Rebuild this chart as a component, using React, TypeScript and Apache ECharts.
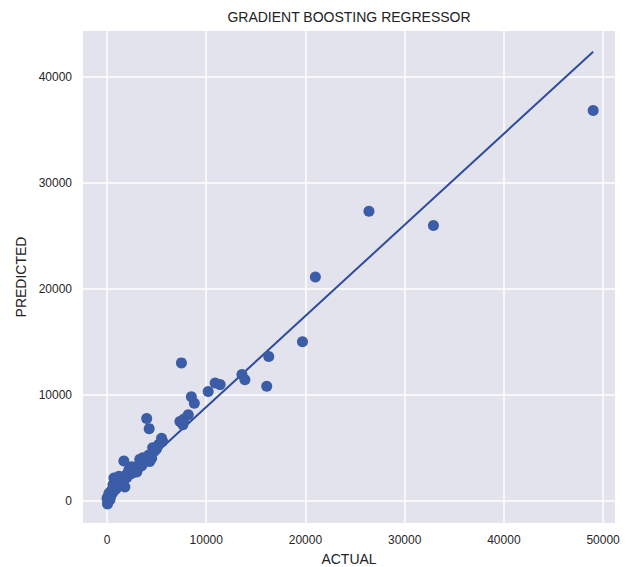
import React, { useEffect, useRef } from "react";
import * as echarts from "echarts";

const titleText = "GRADIENT BOOSTING REGRESSOR";
const xName = "ACTUAL";
const yName = "PREDICTED";

const xTicks = [0, 10000, 20000, 30000, 40000, 50000];
const yTicks = [0, 10000, 20000, 30000, 40000];

const actual = [
  49000, 32900, 26400, 21000, 19700, 16300, 16100, 13600, 13900, 10900,
  11400, 10200, 7500, 8500, 8800, 7350, 7650, 8190, 7750, 4000,
  4250, 1700, 700, 5600, 5200, 4600, 4300, 3600,
  50, 100, 150, 200, 250, 300, 350, 400, 450, 500,
  600, 650, 700, 800, 900, 950, 1000, 1100, 1200, 1300,
  1400, 1500, 1600, 1750, 1900, 2000, 2100, 2300, 2400, 2500,
  2700, 2800, 3000, 3100, 3300, 3500, 3700, 3800, 4000, 4200,
  4400, 4800, 5000, 100, 200, 0, 300, 5500,
  1200, 2500, 3000, 600, 1800, 4500, 3300, 900, 2200,
];

const predicted = [
  36800, 25950, 27300, 21100, 15000, 13600, 10800, 11900, 11400, 11100,
  10950, 10300, 13000, 9800, 9200, 7480, 7170, 8110, 7700, 7750,
  6800, 3750, 2150, 5600, 5300, 5000, 3700, 4050,
  -300, 0, 300, 150, 500, 700, 400, 900, 600, 1000,
  800, 1200, 1000, 1300, 1100, 1500, 1700, 1400, 1800, 1600,
  2000, 1800, 2200, 2000, 2400, 2200, 2600, 2500, 2800, 2600,
  3000, 2800, 3200, 3000, 3400, 3300, 3600, 4000, 3800, 4300,
  4200, 4700, 4900, 400, 700, 200, 100, 5900,
  2300, 3200, 2700, 1500, 1300, 4000, 3900, 1900, 2900,
];

const fitX = [0, 49000];
const fitY = [250, 42350];

const FONT = "'Liberation Sans', Arial, Helvetica, sans-serif";

export default function App() {
  const ref = useRef<HTMLDivElement>(null);

  useEffect(() => {
    if (!ref.current) return;
    const chart = echarts.init(ref.current, undefined, { renderer: "svg" });
    const points = actual.map((a, i) => [a, predicted[i]]);
    const fit = fitX.map((x, i) => [x, fitY[i]]);

    chart.setOption({
      animation: false,
      backgroundColor: "#ffffff",
      grid: {
        left: 83,
        right: 13,
        top: 31,
        bottom: 44,
        containLabel: false,
        outerBoundsMode: "none",
        show: true,
        backgroundColor: "#E3E3EE",
        borderWidth: 0,
      },
      graphic: [
        {
          type: "text",
          x: 349,
          y: 17,
          style: {
            text: titleText,
            fill: "#222222",
            font: `14px ${FONT}`,
            textAlign: "center",
            textVerticalAlign: "middle",
          },
        },
      ],
      xAxis: {
        type: "value",
        min: -2420,
        max: 51200,
        name: xName,
        nameLocation: "middle",
        nameGap: 29,
        nameTextStyle: { color: "#222222", fontSize: 14, fontFamily: FONT },
        axisLine: { show: false },
        axisTick: { show: false, customValues: xTicks },
        axisLabel: {
          customValues: xTicks,
          formatter: (v: number) => String(v),
          color: "#262626",
          fontSize: 12,
          fontFamily: FONT,
          margin: 11,
        },
        splitLine: { show: true, lineStyle: { color: "#ffffff", width: 1.5 } },
      },
      yAxis: {
        type: "value",
        min: -2100,
        max: 44300,
        name: yName,
        nameLocation: "middle",
        nameGap: 49,
        nameTextStyle: { color: "#222222", fontSize: 14, fontFamily: FONT },
        axisLine: { show: false },
        axisTick: { show: false, customValues: yTicks },
        axisLabel: {
          customValues: yTicks,
          formatter: (v: number) => String(v),
          color: "#262626",
          fontSize: 12,
          fontFamily: FONT,
          margin: 11,
        },
        splitLine: { show: true, lineStyle: { color: "#ffffff", width: 1.5 } },
      },
      series: [
        {
          type: "line",
          data: fit,
          symbol: "none",
          z: 2,
          lineStyle: { color: "#2d4c9c", width: 2 },
          silent: true,
        },
        {
          type: "scatter",
          data: points,
          symbolSize: 11,
          z: 3,
          itemStyle: { color: "#3b5ca6", opacity: 1 },
        },
      ],
    });

    return () => chart.dispose();
  }, []);

  return (
    <div
      ref={ref}
      style={{ position: "fixed", left: 0, top: 0, width: 628, height: 567 }}
    />
  );
}
